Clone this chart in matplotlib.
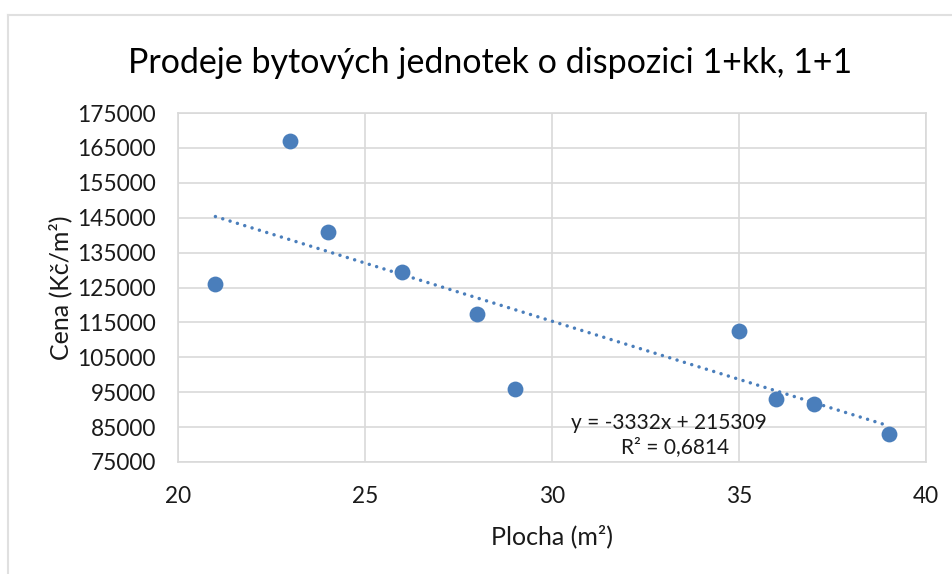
import matplotlib
matplotlib.use("Agg")
import matplotlib.pyplot as plt
import numpy as np
from matplotlib.lines import Line2D

plt.rcParams['font.family'] = ['Lato', 'DejaVu Sans']

# Data
plocha = [21, 23, 24, 26, 28, 29, 35, 36, 37, 39]
cena = [126000, 167000, 141000, 129500, 117500, 96000, 112500, 93000, 91500, 83000]
slope = -3332
intercept = 215309
r2_text = "R² = 0,6814"
eq_text = "y = -3332x + 215309"
title = "Prodeje bytových jednotek o dispozici 1+kk, 1+1"
xlabel = "Plocha (m²)"
ylabel = "Cena (Kč/m²)"
xticks = [20, 25, 30, 35, 40]
yticks = list(range(75000, 175001, 10000))

W, H = 953, 574
fig = plt.figure(figsize=(W / 100, H / 100), dpi=100)
ax = fig.add_axes([178 / W, 1 - 462 / H, (926 - 178) / W, (462 - 113) / H])

blue = '#4a7ebb'
grid = '#d9d9d9'

ax.set_xlim(20, 40)
ax.set_ylim(75000, 175000)
ax.set_xticks(xticks)
ax.set_yticks(yticks)
ax.set_xticklabels([str(t) for t in xticks])
ax.set_yticklabels([str(t) for t in yticks])
ax.grid(True, color=grid, linewidth=1.2)
ax.set_axisbelow(True)
for s in ax.spines.values():
    s.set_color(grid)
    s.set_linewidth(1.2)
ax.tick_params(length=0, labelsize=16.3, colors='#1a1a1a')
ax.tick_params(axis='y', pad=16)
ax.tick_params(axis='x', pad=17)

# trendline
xt = np.array([min(plocha), max(plocha)])
ax.plot(xt, slope * xt + intercept, color=blue, linewidth=2.5,
        linestyle=(0, (0.01, 2.2)), dash_capstyle='round', zorder=2)

ax.scatter(plocha, cena, s=130, color=blue, zorder=3, linewidths=0)

ax.text(33.13, 86300, eq_text, ha='center', va='center', fontsize=15, color='#1a1a1a')
ax.text(33.3, 79400, r2_text, ha='center', va='center', fontsize=15, color='#1a1a1a')

fig.text(490 / W, 1 - 63 / H, title, ha='center', va='center', fontsize=24.5, color='#000000')
fig.text(552 / W, 1 - 536 / H, xlabel, ha='center', va='center', fontsize=18, color='#1a1a1a')
fig.text(60 / W, 1 - 288 / H, ylabel, ha='center', va='center', rotation=90, fontsize=18, color='#1a1a1a')

# outer chart border (top and left)
fig.add_artist(Line2D([8 / W, 1], [1 - 15 / H, 1 - 15 / H], color='#e0e0e0', linewidth=1.5, transform=fig.transFigure))
fig.add_artist(Line2D([8 / W, 8 / W], [0, 1 - 15 / H], color='#e0e0e0', linewidth=1.5, transform=fig.transFigure))

fig.savefig('out.png', dpi=100, facecolor='white')
